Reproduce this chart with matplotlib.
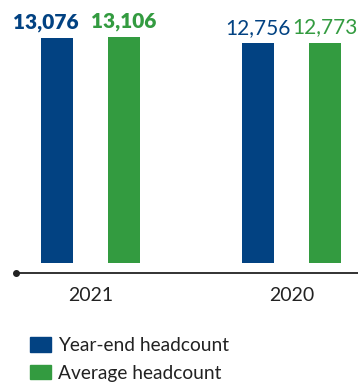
import matplotlib
matplotlib.use("Agg")
import matplotlib.pyplot as plt
from matplotlib.patches import Patch
import numpy as np

years = ["2021", "2020"]
year_end = [13076, 12756]
average = [13106, 12773]
series_names = ["Year-end headcount", "Average headcount"]

blue = "#024282"
green = "#339b40"
grey = "#222222"

plt.rcParams['font.family'] = ['Lato', 'DejaVu Sans']

fig = plt.figure(figsize=(3.58, 3.83), dpi=100)
ax = fig.add_axes([0.0447, 0.2872, 0.9553, 0.7128])

x = np.arange(len(years))
w = 0.16
off = 0.166
b1 = ax.bar(x - off, year_end, w, color=blue)
b2 = ax.bar(x + off, average, w, color=green)

ymin = -580
ax.set_ylim(ymin, 15280)
ax.set_xlim(-0.372, 1.331)

# value labels: latest year bold
for i in range(len(years)):
    weight = 'heavy' if i == 0 else 'normal'
    shift = -8 if i == 0 else 0
    ax.annotate(f"{year_end[i]:,}", (x[i] - off, year_end[i]), xytext=(shift, 7),
                textcoords='offset points', ha='center', va='baseline',
                fontsize=15, color=blue, fontweight=weight)
    ax.annotate(f"{average[i]:,}", (x[i] + off, average[i]), xytext=(0, 7),
                textcoords='offset points', ha='center', va='baseline',
                fontsize=15, color=green, fontweight=weight)

for s in ['top', 'right', 'left']:
    ax.spines[s].set_visible(False)
ax.spines['bottom'].set_color(grey)
ax.spines['bottom'].set_linewidth(1.3)
ax.set_yticks([])
ax.set_xticks(x)
ax.set_xticklabels(years, fontsize=14, color=grey)
ax.tick_params(axis='x', length=0, pad=10)
ax.plot([-0.372], [ymin], 'o', color=grey, markersize=4, clip_on=False)

handles = [Patch(color=blue), Patch(color=green)]
fig.legend(handles, series_names, loc='upper left', bbox_to_anchor=(0.085, 0.12),
           frameon=False, fontsize=13.8, handlelength=1.05, handleheight=0.8,
           handletextpad=0.4, labelspacing=0.55, borderpad=0, borderaxespad=0,
           labelcolor=grey)

fig.savefig("out.png", dpi=100)
